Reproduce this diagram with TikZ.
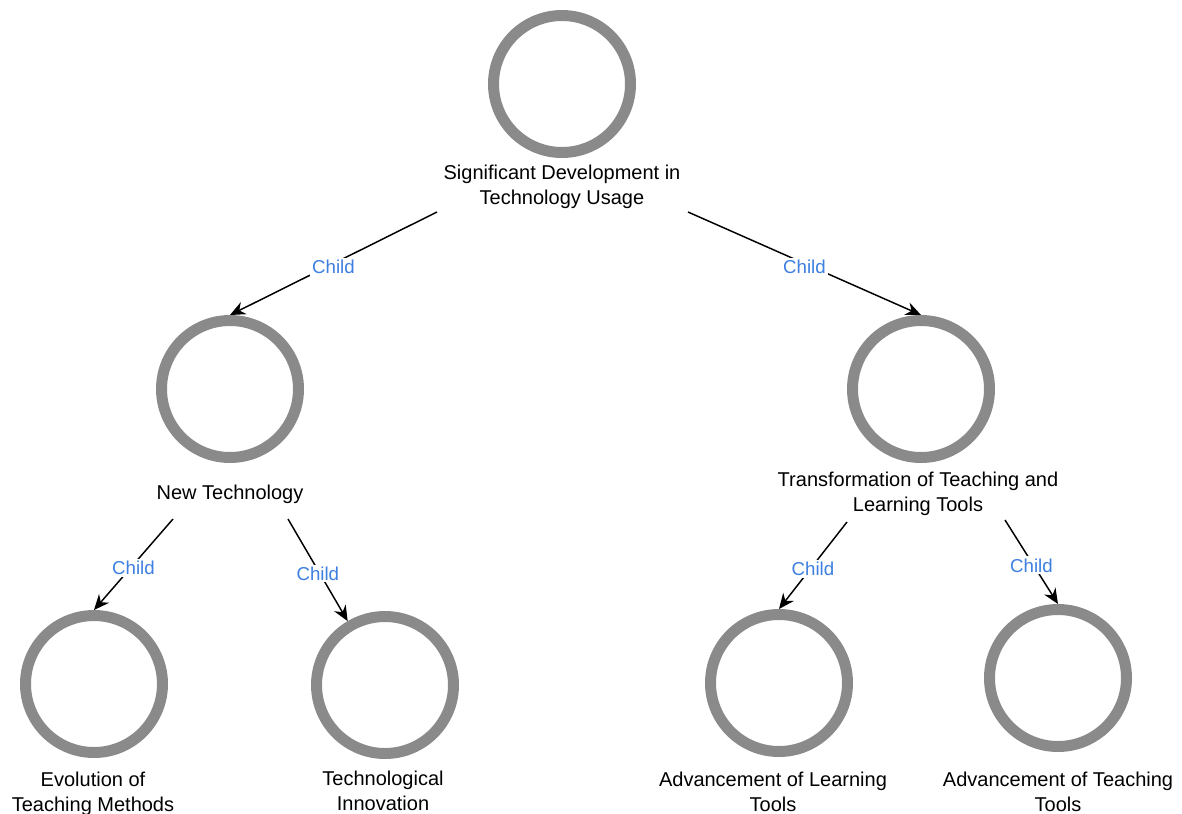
\documentclass[tikz,border=0pt]{standalone}
\usepackage{fontspec}
\setmainfont{Liberation Sans}
\usetikzlibrary{arrows.meta, calc, positioning}
\definecolor{ringGrey}{HTML}{8A8A8A}
\definecolor{childBlue}{HTML}{3D7FE0}
\tikzset{
  % one picture unit is one pixel of the 1182x814 sheet, y running down
  ring/.style      = {circle, draw=ringGrey, line width=8.25pt,
                      minimum size=102.75pt, inner sep=0pt},
  topic/.style     = {font=\fontsize{15}{18.75}\selectfont, align=center,
                      inner sep=0pt},
  childedge/.style = {-{Stealth[length=11.5pt, width=10pt]}, line width=1.1pt},
  childlbl/.style  = {font=\fontsize{14}{16}\selectfont, text=childBlue,
                      fill=white, inner sep=1.5pt, yshift=-2.5pt},
}

\begin{document}
\begin{tikzpicture}[x=0.75pt, y=-0.75pt]
  \useasboundingbox (0,0) rectangle (1182,814);
  % circles
  \node[ring] (root)    at (562,84)  {};
  \node[ring] (newtech) at (230,389) {};
  \node[ring] (transf)  at (921,389) {};
  \node[ring] (evol)    at (94,684)  {};
  \node[ring] (techinn) at (385,685) {};
  \node[ring] (advlearn) at (779,683) {};
  \node[ring] (advteach) at (1058,678) {};
  % texts under the circles
  \node[topic] (rootlbl)  at (562,187) {Significant Development in\\Technology Usage};
  \node[topic] (ntlbl)    at (230,494) {New Technology};
  \node[topic] (trlbl)    at (918,494) {Transformation of Teaching and\\Learning Tools};
  \node[topic] (evlbl)    at (93,794)  {Evolution of\\Teaching Methods};
  \node[topic] (tilbl)    at (383,791) {Technological\\Innovation};
  \node[topic] (allbl)    at (773,792) {Advancement of Learning\\Tools};
  \node[topic] (atlbl)    at (1058,792) {Advancement of Teaching\\Tools};
  % child links
  \draw[childedge] ($(rootlbl.center)+(-125,25)$) -- node[childlbl] {Child} (newtech.north);
  \draw[childedge] ($(rootlbl.center)+(126,25)$)  -- node[childlbl] {Child} (transf.north);
  \draw[childedge] ($(ntlbl.center)+(-57,25)$)    -- node[childlbl] {Child} (evol.north);
  \draw[childedge] ($(ntlbl.center)+(58,25)$)     -- node[childlbl] {Child} (techinn);
  \draw[childedge] ($(trlbl.center)+(-71,28)$)    -- node[childlbl] {Child} (advlearn.north);
  \draw[childedge] ($(trlbl.center)+(87,26)$)     -- node[childlbl] {Child} (advteach.north);
\end{tikzpicture}
\end{document}
